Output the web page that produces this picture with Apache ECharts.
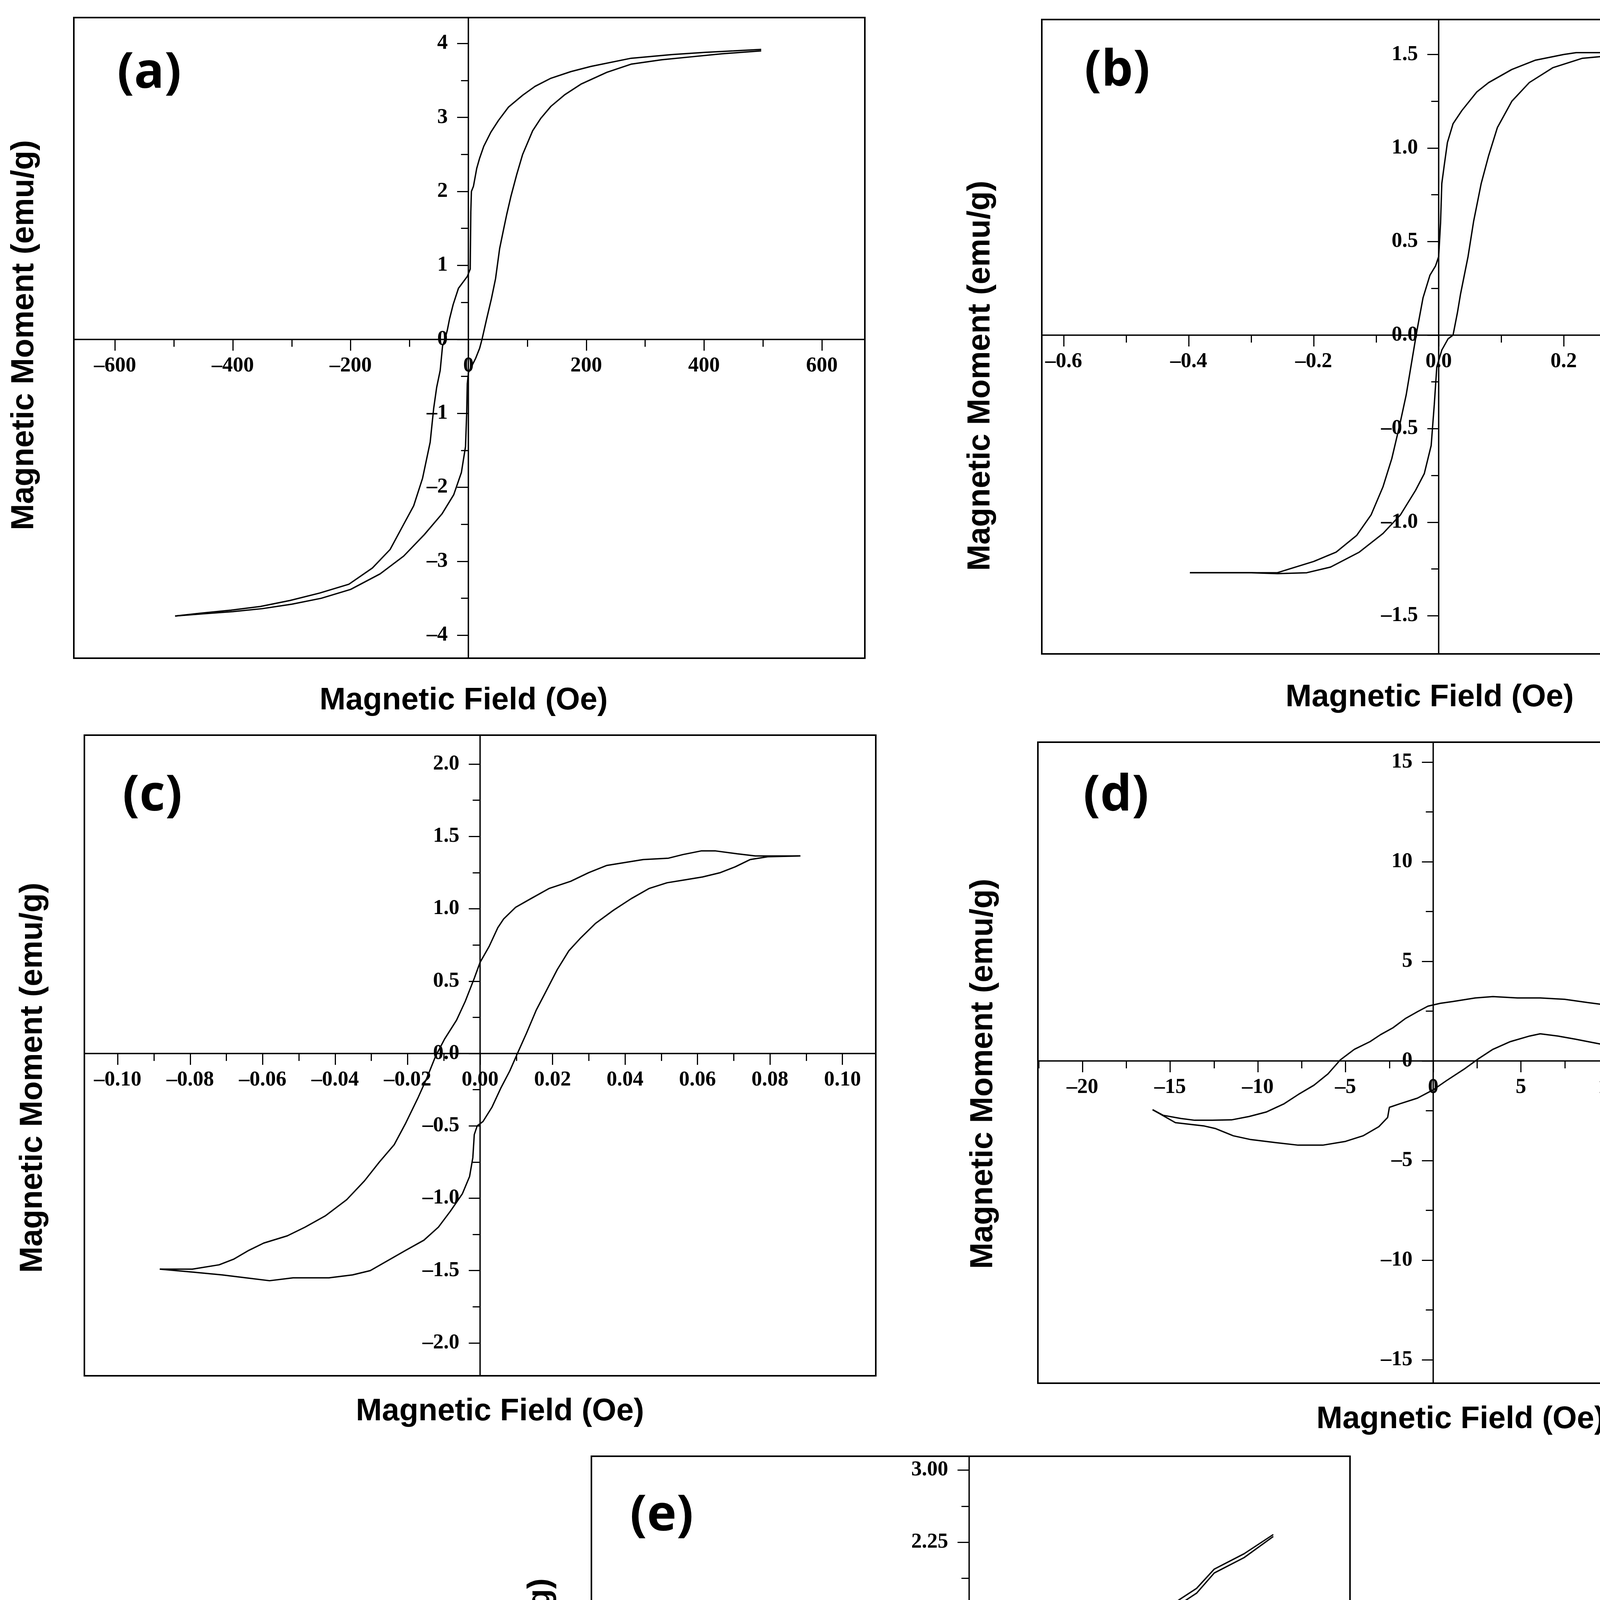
<!DOCTYPE html>
<html>
<head>
<meta charset="utf-8">
<title>Magnetic hysteresis loops (a)-(e)</title>
<script src="https://cdn.jsdelivr.net/npm/echarts@6/dist/echarts.min.js"></script>
<style>
html,body{margin:0;padding:0;background:#fff;}
#chart{width:4730px;height:5450px;}
</style>
</head>
<body>
<div id="chart"></div>
<script>
// ---- panel (a) ----
var fieldA_down  = [497, 450, 402, 345, 276, 208, 174, 140, 113, 92, 68, 51, 38, 26, 19, 14, 8.5, 5, 4, 3, -2, -17, -26, -32, -36, -40, -44, -48, -54, -59, -65, -78, -93, -110, -133, -163, -203, -253, -303, -353, -403, -453, -498];
var momentA_down = [3.92, 3.90, 3.88, 3.85, 3.80, 3.69, 3.62, 3.53, 3.42, 3.30, 3.14, 2.96, 2.80, 2.61, 2.45, 2.31, 2.07, 2.0, 1.72, 0.95, 0.85, 0.69, 0.47, 0.28, 0.12, 0.0, -0.09, -0.42, -0.65, -0.93, -1.39, -1.88, -2.25, -2.5, -2.84, -3.09, -3.31, -3.43, -3.53, -3.61, -3.66, -3.70, -3.74];
var fieldA_up  = [-498, -450, -400, -350, -300, -250, -200, -150, -110, -75, -45, -25, -12, -5, -3, -2, 0, 5, 12, 19, 23, 31, 39, 46, 53, 60, 65, 72, 82, 92, 109, 123, 140, 164, 191, 235, 276, 328, 379, 430, 497];
var momentA_up = [-3.74, -3.71, -3.68, -3.64, -3.58, -3.50, -3.38, -3.17, -2.93, -2.64, -2.36, -2.1, -1.8, -1.45, -1.0, -0.6, -0.45, -0.37, -0.26, -0.12, 0.0, 0.28, 0.55, 0.82, 1.23, 1.5, 1.69, 1.93, 2.23, 2.5, 2.82, 2.99, 3.15, 3.31, 3.45, 3.61, 3.72, 3.78, 3.82, 3.86, 3.90];
var xMajorA = [-600, -400, -200, 0, 200, 400, 600];
var xMinorA = [-500, -300, -100, 100, 300, 500];
var yMajorA = [-4, -3, -2, -1, 0, 1, 2, 3, 4];
var yMinorA = [-3.5, -2.5, -1.5, -0.5, 0.5, 1.5, 2.5, 3.5];

// ---- panel (b) ----
var fieldB_down  = [0.39, 0.30, 0.22, 0.20, 0.155, 0.117, 0.08, 0.061, 0.037, 0.023, 0.014, 0.009, 0.005, 0.003, 0.0, -0.005, -0.014, -0.025, -0.035, -0.042, -0.052, -0.063, -0.075, -0.089, -0.108, -0.131, -0.164, -0.2, -0.239, -0.258, -0.32, -0.398];
var momentB_down = [1.51, 1.51, 1.51, 1.50, 1.47, 1.42, 1.35, 1.30, 1.20, 1.13, 1.03, 0.91, 0.81, 0.6, 0.42, 0.37, 0.32, 0.20, 0.02, -0.12, -0.32, -0.49, -0.66, -0.81, -0.96, -1.07, -1.16, -1.21, -1.25, -1.27, -1.27, -1.27];
var fieldB_up  = [-0.398, -0.3, -0.258, -0.211, -0.173, -0.127, -0.089, -0.061, -0.037, -0.023, -0.012, -0.007, -0.003, 0.005, 0.015, 0.023, 0.030, 0.035, 0.047, 0.056, 0.068, 0.08, 0.094, 0.117, 0.145, 0.183, 0.23, 0.295, 0.39];
var momentB_up = [-1.27, -1.27, -1.275, -1.27, -1.24, -1.16, -1.06, -0.96, -0.83, -0.74, -0.59, -0.37, -0.17, -0.08, -0.02, 0.0, 0.12, 0.22, 0.42, 0.61, 0.81, 0.96, 1.11, 1.25, 1.35, 1.43, 1.48, 1.50, 1.51];
var xMajorB = [-0.6, -0.4, -0.2, 0, 0.2, 0.4, 0.6];
var xMinorB = [-0.5, -0.3, -0.1, 0.1, 0.3, 0.5];
var yMajorB = [-1.5, -1, -0.5, 0, 0.5, 1, 1.5];
var yMinorB = [-1.25, -0.75, -0.25, 0.25, 0.75, 1.25];

// ---- panel (c) ----
var fieldC_down  = [0.0884, 0.076, 0.071, 0.065, 0.061, 0.056, 0.052, 0.045, 0.040, 0.035, 0.030, 0.025, 0.019, 0.014, 0.0098, 0.0065, 0.0049, 0.0025, 0, -0.0016, -0.0041, -0.0065, -0.0098, -0.0123, -0.0147, -0.0172, -0.0205, -0.0237, -0.0278, -0.0319, -0.0368, -0.0426, -0.0483, -0.0532, -0.0597, -0.0638, -0.0679, -0.072, -0.0794, -0.0884];
var momentC_down = [1.365, 1.365, 1.38, 1.40, 1.40, 1.375, 1.35, 1.34, 1.32, 1.30, 1.25, 1.19, 1.14, 1.07, 1.01, 0.93, 0.87, 0.74, 0.63, 0.52, 0.36, 0.23, 0.10, -0.02, -0.17, -0.31, -0.48, -0.63, -0.75, -0.88, -1.01, -1.12, -1.20, -1.26, -1.31, -1.36, -1.42, -1.46, -1.49, -1.49];
var fieldC_up  = [-0.0884, -0.0794, -0.0712, -0.0646, -0.0581, -0.0516, -0.0417, -0.0352, -0.0303, -0.0254, -0.0205, -0.0155, -0.0115, -0.0082, -0.0049, -0.0029, -0.002, -0.0016, -0.0008, 0.0008, 0.0033, 0.0057, 0.0082, 0.0103, 0.0128, 0.0155, 0.018, 0.0213, 0.0245, 0.0278, 0.0319, 0.0368, 0.0417, 0.0466, 0.0516, 0.0565, 0.0614, 0.0663, 0.0704, 0.0745, 0.0794, 0.0884];
var momentC_up = [-1.49, -1.51, -1.53, -1.55, -1.57, -1.55, -1.55, -1.53, -1.50, -1.43, -1.36, -1.29, -1.20, -1.09, -0.97, -0.85, -0.72, -0.56, -0.50, -0.47, -0.37, -0.24, -0.12, 0.0, 0.14, 0.30, 0.42, 0.58, 0.71, 0.80, 0.90, 0.99, 1.07, 1.14, 1.18, 1.20, 1.22, 1.25, 1.29, 1.34, 1.36, 1.365];
var xMajorC = [-0.10, -0.08, -0.06, -0.04, -0.02, 0, 0.02, 0.04, 0.06, 0.08, 0.10];
var xMinorC = [-0.09, -0.07, -0.05, -0.03, -0.01, 0.01, 0.03, 0.05, 0.07, 0.09];
var yMajorC = [-2, -1.5, -1, -0.5, 0, 0.5, 1, 1.5, 2];
var yMinorC = [-1.75, -1.25, -0.75, -0.25, 0.25, 0.75, 1.25, 1.75];

// ---- panel (d) ----
var fieldD_down  = [17.8, 16.9, 15.9, 14.5, 13.5, 12.5, 11.2, 10.2, 8.8, 7.5, 6.1, 4.8, 3.4, 2.4, 1.1, 0.4, -0.3, -0.9, -1.6, -2.3, -3.0, -3.6, -4.5, -5.3, -6.0, -6.8, -7.7, -8.5, -9.5, -10.5, -11.5, -12.6, -13.6, -14.4, -15.4, -16.0];
var momentD_down = [0.62, 0.8, 0.97, 1.3, 1.78, 2.17, 2.59, 2.77, 2.93, 3.09, 3.16, 3.16, 3.23, 3.16, 2.98, 2.89, 2.75, 2.47, 2.12, 1.66, 1.32, 0.97, 0.58, 0.05, -0.65, -1.22, -1.69, -2.15, -2.56, -2.79, -2.96, -2.98, -2.98, -2.89, -2.73, -2.45];
var fieldD_up  = [-16.0, -14.7, -13.1, -12.4, -11.4, -10.4, -9.0, -7.7, -6.3, -5.0, -4.0, -3.1, -2.6, -2.5, -1.9, -0.9, 0, 0.74, 1.75, 2.6, 3.4, 4.4, 5.5, 6.1, 7.1, 8.1, 9.5, 10.8, 12.5, 14.2, 15.2, 16.6, 17.8];
var momentD_up = [-2.45, -3.1, -3.26, -3.4, -3.76, -3.95, -4.1, -4.23, -4.23, -4.04, -3.76, -3.3, -2.84, -2.33, -2.15, -1.87, -1.45, -1.0, -0.42, 0.12, 0.58, 0.97, 1.25, 1.36, 1.25, 1.09, 0.85, 0.67, 0.58, 0.44, 0.44, 0.51, 0.62];
var xMajorD = [-20, -15, -10, -5, 0, 5, 10, 15, 20];
var xMinorD = [-22.5, -17.5, -12.5, -7.5, -2.5, 2.5, 7.5, 12.5, 17.5, 22.5];
var yMajorD = [-15, -10, -5, 0, 5, 10, 15];
var yMinorD = [-12.5, -7.5, -2.5, 2.5, 7.5, 12.5];

// ---- panel (e) ----
var fieldE_up  = [-5.01, -4.67, -4.38, -3.99, -3.61, -3.03, -2.45, -2.01, -1.48, -1.0, -0.71, -0.42, -0.17, 0.02, 0.16, 0.45, 0.84, 1.13, 1.52, 2.0, 2.49, 2.97, 3.45, 3.74, 4.03, 4.52, 5.0];
var momentE_up = [-2.06, -1.89, -1.71, -1.54, -1.33, -1.08, -0.82, -0.64, -0.40, -0.19, -0.05, 0.09, 0.17, 0.19, 0.17, 0.26, 0.41, 0.58, 0.76, 1.00, 1.18, 1.39, 1.60, 1.72, 1.93, 2.09, 2.31];
var fieldE_down  = [5.0, 4.52, 4.03, 3.74, 3.45, 2.97, 2.49, 2.0, 1.52, 1.13, 0.84, 0.45, 0.16, 0.02, -0.17, -0.42, -0.71, -1.0, -1.48, -2.01, -2.45, -3.03, -3.61, -3.99, -4.38, -4.67, -5.01];
var momentE_down = [2.33, 2.13, 1.97, 1.77, 1.65, 1.44, 1.23, 1.05, 0.81, 0.63, 0.46, 0.31, 0.21, 0.23, 0.22, 0.13, -0.01, -0.15, -0.36, -0.60, -0.78, -1.04, -1.29, -1.50, -1.67, -1.85, -2.04];
var xMajorE = [-6, -5, -4, -3, -2, -1, 0, 1, 2, 3, 4, 5, 6];
var xMinorE = [-5.5, -4.5, -3.5, -2.5, -1.5, -0.5, 0.5, 1.5, 2.5, 3.5, 4.5, 5.5];
var yMajorE = [-3, -2.25, -1.5, -0.75, 0, 0.75, 1.5, 2.25, 3];
var yMinorE = [-2.625, -1.875, -1.125, -0.375, 0.375, 1.125, 1.875, 2.625];

var xTitle = 'Magnetic Field (Oe)';
var yTitle = 'Magnetic Moment (emu/g)';

// layout of each panel in page pixels (box, axis ranges, title spots)
var panels = [
  {tag:'(a)', box:[189, 45, 2214, 1685], x:[-670, 673], y:[-4.31, 4.35],
   xd:fieldA_down, yd:momentA_down, xu:fieldA_up, yu:momentA_up,
   xM:xMajorA, xm:xMinorA, yM:yMajorA, ym:yMinorA, xf:0, yf:0,
   tagAt:[382, 189], yTitleAt:[63, 858], xTitleAt:[1187, 1794]},
  {tag:'(b)', box:[2667, 50, 4695, 1674], x:[-0.635, 0.6325], y:[-1.704, 1.687],
   xd:fieldB_down, yd:momentB_down, xu:fieldB_up, yu:momentB_up,
   xM:xMajorB, xm:xMinorB, yM:yMajorB, ym:yMinorB, xf:1, yf:1,
   tagAt:[2860, 183], yTitleAt:[2511, 962], xTitleAt:[3660, 1786]},
  {tag:'(c)', box:[216, 1882, 2242, 3522], x:[-0.1092, 0.1092], y:[-2.227, 2.2],
   xd:fieldC_down, yd:momentC_down, xu:fieldC_up, yu:momentC_up,
   xM:xMajorC, xm:xMinorC, yM:yMajorC, ym:yMinorC, xf:2, yf:1,
   tagAt:[390, 2039], yTitleAt:[85, 2759], xTitleAt:[1280, 3614]},
  {tag:'(d)', box:[2657, 1900, 4687, 3541], x:[-22.54, 22.67], y:[-16.18, 16.0],
   xd:fieldD_down, yd:momentD_down, xu:fieldD_up, yu:momentD_up,
   xM:xMajorD, xm:xMinorD, yM:yMajorD, ym:yMinorD, xf:0, yf:0,
   tagAt:[2857, 2039], yTitleAt:[2518, 2749], xTitleAt:[3739, 3634]},
  {tag:'(e)', box:[1514, 3728, 3456, 5282], x:[-6.2, 6.26], y:[-3.168, 3.144],
   xd:fieldE_down, yd:momentE_down, xu:fieldE_up, yu:momentE_up,
   xM:xMajorE, xm:xMinorE, yM:yMajorE, ym:yMinorE, xf:0, yf:2,
   tagAt:[1694, 3882], yTitleAt:[1385, 4540], xTitleAt:[2559, 5389]}
];

function zip(xs, ys) {
  var out = [];
  for (var i = 0; i < xs.length; i++) out.push([xs[i], ys[i]]);
  return out;
}

var axisLineStyle = {color:'#000', width:3.5};
var tickStyle = {color:'#000', width:3};

function fmt(digits) {
  return function (v) {
    var s = Math.abs(v).toFixed(digits);
    return v < 0 ? '\u2013' + s : s;
  };
}

// major axis: line, long ticks, labels
function majorAxis(idx, range, ticks, digits, margin) {
  return {
    type:'value', gridIndex:idx, min:range[0], max:range[1], offset:0,
    // labels must ride with the line through the origin, so the axis is moved with offset, not onZero
    axisLine:{show:true, onZero:false, lineStyle:axisLineStyle},
    axisTick:{show:true, inside:false, length:29, lineStyle:tickStyle, customValues:ticks},
    splitLine:{show:false},
    axisLabel:{show:true, margin:margin, customValues:ticks, hideOverlap:false,
      color:'#000', fontFamily:'"Liberation Serif", "Times New Roman", serif', fontSize:54, fontWeight:'bold',
      formatter:fmt(digits)}
  };
}
// companion axis carrying only the short in-between ticks
function minorAxis(idx, range, ticks) {
  return {
    type:'value', gridIndex:idx, min:range[0], max:range[1], offset:0,
    axisLine:{show:false, onZero:false},
    axisTick:{show:true, inside:false, length:19, lineStyle:tickStyle, customValues:ticks},
    splitLine:{show:false},
    axisLabel:{show:false}
  };
}

var grids = [], xAxes = [], yAxes = [], series = [], graphics = [];
panels.forEach(function (p, i) {
  grids.push({left:p.box[0], top:p.box[1], width:p.box[2]-p.box[0], height:p.box[3]-p.box[1],
    show:true, borderColor:'#000', borderWidth:4, backgroundColor:'#fff', containLabel:false, outerBoundsMode:'none'});
  var mx = majorAxis(i, p.x, p.xM, p.xf, 41), my = majorAxis(i, p.y, p.yM, p.yf, 53);
  mx.position = 'bottom'; my.position = 'left';
  xAxes[i] = mx; yAxes[i] = my;
  [[p.xd, p.yd], [p.xu, p.yu]].forEach(function (b) {
    series.push({type:'line', xAxisIndex:i, yAxisIndex:i, data:zip(b[0], b[1]),
      symbol:'none', showSymbol:false, smooth:false, silent:true,
      lineStyle:{color:'#000', width:3.5}});
  });
  graphics.push({type:'text', x:p.tagAt[0], y:p.tagAt[1], silent:true,
    style:{text:p.tag, fill:'#000', font:'bold 128px "Open Sans", Lato, sans-serif', align:'center', verticalAlign:'middle'}});
  graphics.push({type:'text', x:p.yTitleAt[0], y:p.yTitleAt[1], rotation:Math.PI/2, silent:true,
    style:{text:yTitle, fill:'#000', font:'bold 81px "Liberation Sans", Arial, sans-serif', align:'center', verticalAlign:'middle'}});
  graphics.push({type:'text', x:p.xTitleAt[0], y:p.xTitleAt[1], silent:true,
    style:{text:xTitle, fill:'#000', font:'bold 80px "Liberation Sans", Arial, sans-serif', align:'center', verticalAlign:'middle'}});
});
panels.forEach(function (p, i) {
  var nx = minorAxis(i, p.x, p.xm), ny = minorAxis(i, p.y, p.ym);
  nx.position = 'bottom'; ny.position = 'left';
  xAxes[panels.length + i] = nx; yAxes[panels.length + i] = ny;
});

var chart = echarts.init(document.getElementById('chart'), null, {renderer:'canvas'});
chart.setOption({
  animation:false,
  backgroundColor:'#fff',
  grid:grids,
  xAxis:xAxes,
  yAxis:yAxes,
  series:series,
  graphic:graphics
});

// second pass: slide each axis onto the other axis's zero, using the chart's own scale
panels.forEach(function (p, i) {
  var origin = chart.convertToPixel({gridIndex:i}, [0, 0]);
  var dx = origin[1] - p.box[3];   // bottom axis: negative moves it up
  var dy = p.box[0] - origin[0];   // left axis: negative moves it right
  xAxes[i].offset = dx; xAxes[panels.length + i].offset = dx;
  yAxes[i].offset = dy; yAxes[panels.length + i].offset = dy;
});
chart.setOption({xAxis:xAxes, yAxis:yAxes});

window.onresize = function () { chart.resize(); };
</script>
</body>
</html>
